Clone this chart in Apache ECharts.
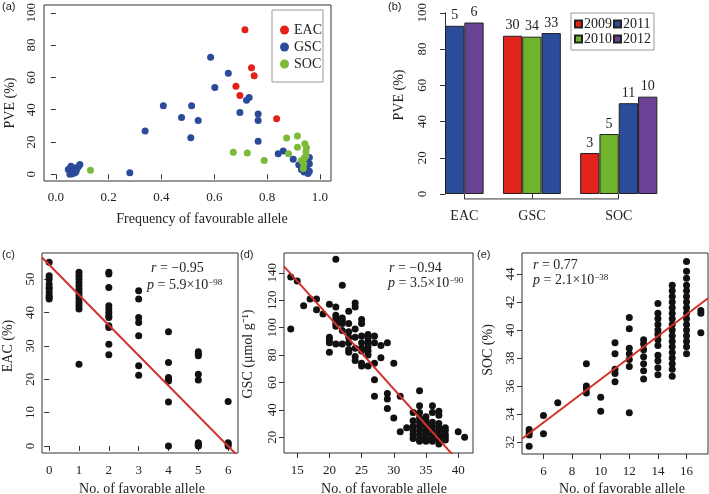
<!DOCTYPE html>
<html>
<head>
<meta charset="utf-8">
<script src="https://cdn.jsdelivr.net/npm/echarts@6/dist/echarts.min.js"></script>
<style>
  html, body { margin: 0; background: #fff; }
  #chart { width: 709px; height: 494px; }
</style>
</head>
<body>
<div id="chart"></div>
<script>
// (a) PVE vs frequency of favourable allele, [frequency, PVE]
const eacPoints = [[0.716, 89.5], [0.741, 66], [0.751, 61], [0.682, 54.5], [0.697, 48.8], [0.836, 34.4]]
const gscPoints = [
  [0.586, 72.5], [0.653, 62.5], [0.602, 53.7], [0.722, 45.9], [0.732, 47.5], [0.407, 42.4],
  [0.514, 42.4], [0.697, 38.3], [0.766, 37.3], [0.766, 33.4], [0.476, 35.2], [0.539, 33.4],
  [0.338, 26.8], [0.511, 22.7], [0.766, 20.5], [0.842, 12.7], [0.861, 14.5], [0.899, 9.4],
  [0.92, 6], [0.93, 3], [0.94, 1.5], [0.95, 4], [0.955, 0.5], [0.96, 2], [0.96, 6.5],
  [0.96, 10.5], [0.95, 8], [0.28, 1], [0.047, 3], [0.053, 0], [0.059, 2], [0.066, 4],
  [0.072, 1], [0.078, 3], [0.085, 4.7], [0.091, 6.1], [0.057, 5], [0.076, 1.6], [0.063, 0.4],
  [0.081, 4.1]
]
const socPoints = [
  [0.131, 2.5], [0.672, 13.7], [0.725, 13.3], [0.789, 8.6], [0.874, 22.5], [0.915, 23.8],
  [0.915, 16.8], [0.881, 12.7], [0.943, 18.9], [0.947, 13.9], [0.941, 10.2], [0.93, 8.6],
  [0.939, 6.6], [0.937, 3.7], [0.947, 11.3], [0.949, 16.4]
]

// (b) total PVE per trait and year, with number of QTL on top
const traits = ['EAC', 'GSC', 'SOC']
const years = ['2009', '2010', '2011', '2012']
const pve2009 = [null, 87.3, 22.6]
const pve2010 = [null, 86.8, 33.1]
const pve2011 = [92.8, 88.8, 50.1]
const pve2012 = [94.6, null, 53.7]
const qtl2009 = [null, 30, 3]
const qtl2010 = [null, 34, 5]
const qtl2011 = [5, 33, 11]
const qtl2012 = [6, null, 10]

// (c) EAC by number of favourable alleles
const eacAllele = [0, 1, 2, 3, 4, 5, 6]
const eacValues = [
  [55, 51, 50, 48.5, 47.5, 47, 46, 45, 44.5, 44],
  [52, 51, 50, 49, 48, 47, 46, 45, 44, 43, 42, 41, 24.5],
  [52, 51.5, 47.5, 42, 41, 40, 39, 38.5, 36, 35.5, 30.5, 27.3],
  [46.5, 44, 38.5, 37, 33, 24, 21.2],
  [34.2, 25, 20.5, 20, 19.5, 13.2, 0],
  [28.2, 27.5, 27, 21.5, 19.8, 1, 0.5, 0, 0.2],
  [13.3, 1, 0.5, 0]
]
const eacFit = [54.3, -9.06]

// (d) GSC by number of favourable alleles
const gscAllele = [14, 15, 16, 17, 18, 19, 20, 21, 22, 23, 24, 25, 26, 27, 28, 29, 30, 31, 32, 33, 34, 35, 36, 37, 38, 40, 41]
const gscValues = [
  [137, 99], [134], [116], [121], [121, 113], [110],
  [117, 93, 91, 89, 82],
  [150, 115, 109, 107, 105, 103, 101, 88],
  [131, 107, 105, 103, 98, 88],
  [112, 103, 97, 93, 89, 84, 82],
  [118, 115, 99, 93, 85, 79, 76],
  [106, 103, 94, 89, 85, 83, 74, 72],
  [95, 92, 89, 86, 83, 80, 72],
  [94, 89, 74, 62, 50],
  [87, 78],
  [89, 52, 48, 41],
  [74, 34],
  [50, 24],
  [27],
  [38, 32, 28, 25, 22, 19],
  [54, 43, 38, 34, 31, 28, 25, 22, 19, 17],
  [35, 32, 29, 26, 23, 20, 17],
  [43, 38, 31, 28, 25, 22, 19, 17],
  [39, 36, 30, 27, 24, 21, 18, 15],
  [27, 25, 22, 20, 18],
  [24], [20]
]
const gscFit = [212.7, -5.25]

// (e) SOC by number of favourable alleles
const socAllele = [5, 6, 7, 9, 10, 11, 12, 13, 14, 15, 16, 17]
const socValues = [
  [32.9, 32.7, 32.5, 31.7],
  [33.9, 32.6],
  [34.8],
  [37.6, 36, 35.8, 35.5],
  [35.2, 34.2],
  [39.1, 38.3, 37.2, 36.9, 36.3],
  [40.9, 40.1, 38.7, 38.3, 37.9, 37.4, 34.1],
  [39.3, 39, 38.6, 38.1, 37.6, 37.1, 36.5],
  [41.9, 41.2, 40.8, 40.4, 40, 39.7, 39.3, 38.9, 38.2, 37.8, 37.3, 36.8],
  [43.2, 42.8, 42.4, 42, 41.6, 41.2, 40.8, 40.4, 40, 39.6, 39.2, 38.8, 38.4, 38, 37.6, 37.2, 36.7],
  [44.9, 44.2, 43.7, 43.2, 42.8, 42.4, 42, 41.6, 41.2, 40.8, 40.4, 40, 39.6, 39.2, 38.8, 38.3],
  [41.4, 41.2, 39.8]
]
const socFit = [28.76, 0.772]

// tick labels
const aTicksX = [0, 0.2, 0.4, 0.6, 0.8, 1.0]
const aTicksY = [0, 20, 40, 60, 80, 100]
const cTicksX = [0, 1, 2, 3, 4, 5, 6]
const cTicksY = [0, 10, 20, 30, 40, 50]
const dTicksX = [15, 20, 25, 30, 35, 40]
const dTicksY = [20, 40, 60, 80, 100, 120, 140]
const eTicksX = [6, 8, 10, 12, 14, 16]
const eTicksY = [32, 34, 36, 38, 40, 42, 44]

const SERIF = 'Liberation Serif'
const SANS = 'Liberation Sans'
const INK = '#222'
const traitColors = ['#e32119', '#2c4a9a', '#7cbb38']
const yearColors = ['#e2231a', '#6fb42c', '#2b4b9b', '#6a4396']
const fitColor = '#d3302a'

function expand(xs, groups) {
  const out = []
  xs.forEach((x, i) => groups[i].forEach(y => out.push([x, y])))
  return out
}

function fitLine(fit, xmin, xmax) {
  return [[xmin, fit[0] + fit[1] * xmin], [xmax, fit[0] + fit[1] * xmax]]
}

function rAxis(grid, min, max, ticks, o) {
  return {
    type: 'value',
    gridIndex: grid,
    min: min,
    max: max,
    splitLine: { show: false },
    axisLine: { show: !!o.line, lineStyle: { color: '#333', width: 1 } },
    axisTick: { show: true, length: 5, customValues: ticks, lineStyle: { color: '#333' } },
    axisLabel: {
      customValues: ticks,
      rotate: o.rotate || 0,
      margin: o.margin,
      fontFamily: SERIF,
      fontSize: 13,
      color: INK,
      formatter: o.fmt
    }
  }
}

// bar slots: consecutive bars per trait, one empty slot between traits
const pveByYear = [pve2009, pve2010, pve2011, pve2012]
const qtlByYear = [qtl2009, qtl2010, qtl2011, qtl2012]
const barData = years.map(() => [])
const traitCenters = []
let slot = 0
traits.forEach((t, ti) => {
  const start = slot
  years.forEach((y, yi) => {
    if (pveByYear[yi][ti] != null) {
      barData[yi].push([slot + 0.5, pveByYear[yi][ti], qtlByYear[yi][ti]])
      slot++
    }
  })
  traitCenters.push((start + slot) / 2)
  slot++
})

const chart = echarts.init(document.getElementById('chart'))

const frame = { show: true, borderColor: '#333', borderWidth: 1, backgroundColor: 'transparent' }
const dot = { color: '#111', opacity: 1 }

const rich = {
  i: { fontFamily: SERIF, fontSize: 14, fontStyle: 'italic', fill: INK },
  n: { fontFamily: SERIF, fontSize: 14, fill: INK },
  s: { fontFamily: SERIF, fontSize: 9, fill: INK, verticalAlign: 'top' }
}
function note(x, y, text) {
  return { type: 'text', x: x, y: y, style: { text: text, rich: rich, font: '14px ' + SERIF, fill: INK, verticalAlign: 'middle' } }
}
function tag(x, y, text) {
  return { type: 'text', x: x, y: y, style: { text: text, font: '11px ' + SANS, fill: INK, verticalAlign: 'middle' } }
}
// axis titles, R style: x centred below, y rotated reading upwards
function title(x, y, text, vertical) {
  return {
    type: 'text', x: x, y: y, rotation: vertical ? Math.PI / 2 : 0,
    style: { text: text, font: '14px ' + SERIF, fill: INK, align: 'center', verticalAlign: 'middle' }
  }
}

chart.setOption({
  animation: false,
  textStyle: { fontFamily: SERIF },
  grid: [
    Object.assign({ left: 44, top: 3, width: 287, height: 178 }, frame),
    { left: 435, top: 10, width: 232, height: 184, show: false },
    Object.assign({ left: 42, top: 253, width: 196, height: 200 }, frame),
    Object.assign({ left: 284, top: 253, width: 189, height: 200 }, frame),
    Object.assign({ left: 522, top: 253, width: 186, height: 201 }, frame)
  ],
  xAxis: [
    rAxis(0, -0.045, 1.042, aTicksX, { margin: 10, fmt: v => v.toFixed(1) }),
    {
      type: 'value', gridIndex: 1, min: -0.52, max: 11.5, position: 'bottom', offset: 5,
      splitLine: { show: false },
      axisLine: { show: false },
      axisTick: { show: true, length: 5, customValues: traitCenters, lineStyle: { color: '#333' } },
      axisLabel: {
        customValues: traitCenters, margin: 10, fontFamily: SERIF, fontSize: 14, color: INK,
        formatter: v => traits[traitCenters.indexOf(v)]
      }
    },
    rAxis(2, -0.24, 6.33, cTicksX, { margin: 11 }),
    rAxis(3, 12.95, 42.3, dTicksX, { margin: 11 }),
    rAxis(4, 4.5, 17.5, eTicksX, { margin: 11 })
  ],
  yAxis: [
    rAxis(0, -4.1, 104.8, aTicksY, { rotate: 90, margin: 6 }),
    rAxis(1, 0, 100, aTicksY, { rotate: 90, margin: 6, line: true }),
    rAxis(2, -2.1, 57.8, cTicksY, { rotate: 90, margin: 5 }),
    rAxis(3, 8.5, 154.5, dTicksY, { rotate: 90, margin: 5 }),
    rAxis(4, 31.15, 45.5, eTicksY, { rotate: 90, margin: 5 })
  ],
  legend: [
    {
      data: ['EAC', 'GSC', 'SOC'], orient: 'vertical', left: 272, top: 10,
      icon: 'circle', itemWidth: 9, itemHeight: 9, itemGap: 3, padding: [13, 1, 11, 8],
      borderColor: '#999', borderWidth: 1, selectedMode: false,
      itemStyle: { opacity: 1 },
      textStyle: { fontFamily: SERIF, fontSize: 14, color: INK }
    },
    {
      data: ['2009', '2011', '2010', '2012'], left: 571, top: 13, width: 84,
      icon: 'rect', itemWidth: 7, itemHeight: 7, itemGap: 1, padding: [4, 3, 4, 3],
      borderColor: '#999', borderWidth: 1, selectedMode: false,
      textStyle: { fontFamily: SERIF, fontSize: 14, color: INK, padding: [0, 0, 0, -3] }
    }
  ],
  series: [
    ...['GSC', 'SOC', 'EAC'].map(name => ({
      name: name, type: 'scatter', xAxisIndex: 0, yAxisIndex: 0, symbolSize: 7,
      itemStyle: { color: traitColors[traits.indexOf(name)], opacity: 1 },
      data: { EAC: eacPoints, GSC: gscPoints, SOC: socPoints }[name]
    })),
    ...years.map((y, yi) => ({
      name: y, type: 'bar', xAxisIndex: 1, yAxisIndex: 1, barWidth: 19.3, barGap: '-100%',
      itemStyle: { color: yearColors[yi], borderColor: '#222', borderWidth: 1 },
      label: {
        show: true, position: 'top', distance: 3, fontFamily: SERIF, fontSize: 14, color: INK,
        formatter: p => String(p.value[2])
      },
      data: barData[yi]
    })),
    {
      type: 'line', xAxisIndex: 1, yAxisIndex: 1, clip: false, silent: true, symbol: 'none',
      lineStyle: { color: '#333', width: 1 },
      data: [[traitCenters[0], -5 * 100 / 184], [traitCenters[traitCenters.length - 1], -5 * 100 / 184]]
    },
    { type: 'scatter', xAxisIndex: 2, yAxisIndex: 2, symbolSize: 7, itemStyle: dot, data: expand(eacAllele, eacValues) },
    { type: 'line', xAxisIndex: 2, yAxisIndex: 2, symbol: 'none', silent: true, z: 5,
      lineStyle: { color: fitColor, width: 2 }, data: fitLine(eacFit, -0.24, 6.33) },
    { type: 'scatter', xAxisIndex: 3, yAxisIndex: 3, symbolSize: 7, itemStyle: dot, data: expand(gscAllele, gscValues) },
    { type: 'line', xAxisIndex: 3, yAxisIndex: 3, symbol: 'none', silent: true, z: 5,
      lineStyle: { color: fitColor, width: 2 }, data: fitLine(gscFit, 12.95, 42.3) },
    { type: 'scatter', xAxisIndex: 4, yAxisIndex: 4, symbolSize: 7, itemStyle: dot, data: expand(socAllele, socValues) },
    { type: 'line', xAxisIndex: 4, yAxisIndex: 4, symbol: 'none', silent: true, z: 5,
      lineStyle: { color: fitColor, width: 2 }, data: fitLine(socFit, 4.5, 17.5) }
  ],
  graphic: [
    tag(2, 7, '(a)'),
    tag(388, 7, '(b)'),
    tag(2, 255, '(c)'),
    tag(240, 255, '(d)'),
    tag(477, 255, '(e)'),
    title(202, 219, 'Frequency of favourable allele'),
    title(142, 489, 'No. of favorable allele'),
    title(384, 489, 'No. of favorable allele'),
    title(622, 489, 'No. of favorable allele'),
    title(10, 103, 'PVE (%)', true),
    title(399, 95, 'PVE (%)', true),
    title(8, 346, 'EAC (%)', true),
    title(248, 354, 'GSC (μmol g⁻¹)', true),
    title(488, 350, 'SOC (%)', true),
    note(151, 268, '{i|r}{n| = −0.95}'),
    note(147, 285, '{i|p}{n| = 5.9×10}{s|−98}'),
    note(389, 268, '{i|r}{n| = −0.94}'),
    note(388, 283, '{i|p}{n| = 3.5×10}{s|−90}'),
    note(533, 265, '{i|r}{n| = 0.77}'),
    note(533, 280, '{i|p}{n| = 2.1×10}{s|−38}')
  ]
})
</script>
</body>
</html>
